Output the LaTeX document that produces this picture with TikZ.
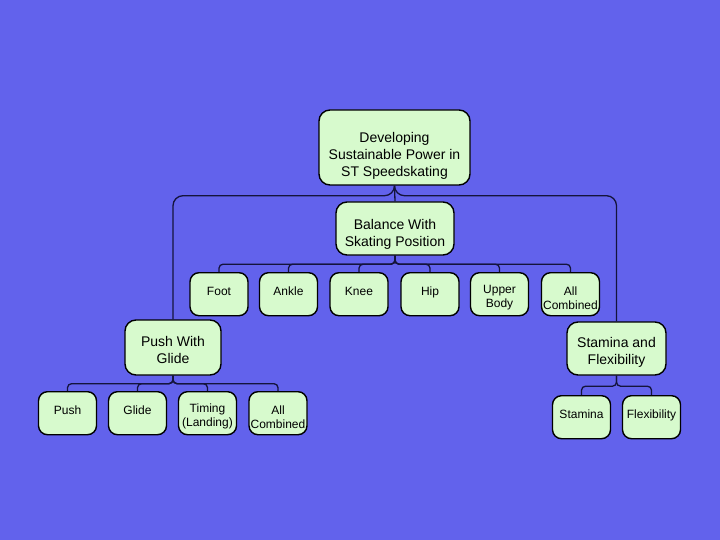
\documentclass[tikz,border=0pt]{standalone}
\usepackage{fontspec}
\setmainfont{Liberation Sans}
\usetikzlibrary{calc}
\definecolor{bgblue}{RGB}{98,98,236}
\definecolor{boxgreen}{RGB}{215,250,205}
\definecolor{linenavy}{RGB}{20,20,60}
\tikzset{
  box/.style={draw=black, line width=1.4pt, fill=boxgreen, rounded corners=11pt,
    align=center, inner sep=2pt, font=\fontsize{14}{17}\selectfont, text height=#1},
  box/.default=33pt,
  leaf/.style={draw=black, line width=1.4pt, fill=boxgreen, rounded corners=9pt,
    align=center, inner sep=1pt, anchor=north, minimum width=58pt, minimum height=43pt,
    font=\fontsize{12}{14}\selectfont, text height=30pt},
  conn/.style={draw=linenavy, line width=1.3pt},
}
\begin{document}
\begin{tikzpicture}[x=1pt, y=-1pt]
  \fill[bgblue] (0,0) rectangle (720,540);
  \useasboundingbox (0,0) rectangle (720,540);
  % main boxes
  \node[box=60pt, minimum width=151pt, minimum height=75pt] (goal) at (394.5,147.5)
    {Developing\\Sustainable Power in\\ST Speedskating};
  \node[box=38pt, minimum width=118pt, minimum height=53pt] (bal) at (395,228.5)
    {Balance With\\Skating Position};
  \node[box=33pt, minimum width=96pt, minimum height=55pt] (push) at (173,347.5)
    {Push With\\Glide};
  \node[box=35pt, minimum width=99pt, minimum height=53pt] (stam) at (616.5,348.5)
    {Stamina and\\Flexibility};
  % balance row
  \node[leaf] (foot) at (219,272) {Foot\\\mbox{}};
  \node[leaf] (ankle) at (288.5,272) {Ankle\\\mbox{}};
  \node[leaf] (knee) at (359,272) {Knee\\\mbox{}};
  \node[leaf] (hip) at (430,272) {Hip\\\mbox{}};
  \node[leaf] (upper) at (499.5,272) {Upper\\Body};
  \node[leaf] (allb) at (570.5,272) {All\\Combined};
  % push row
  \node[leaf] (pushl) at (67.5,391) {Push\\\mbox{}};
  \node[leaf] (glide) at (137.5,391) {Glide\\\mbox{}};
  \node[leaf] (timing) at (207.5,391) {Timing\\(Landing)};
  \node[leaf] (allp) at (278,391) {All\\Combined};
  % stamina row
  \node[leaf] (staml) at (581.5,395) {Stamina\\\mbox{}};
  \node[leaf] (flex) at (651.5,395) {Flexibility\\\mbox{}};
  % connectors
  \draw[conn] (goal.south) -- (bal.north);
  \draw[conn, rounded corners=10pt] (goal.south) -- ++(0,10) -| (push.north);
  \draw[conn, rounded corners=10pt] (goal.south) -- ++(0,10) -| (stam.north);
  \foreach \n in {foot,ankle,knee,hip,upper,allb}
    \draw[conn, rounded corners=4pt] (bal.south) -- ++(0,8.5) -| (\n.north);
  \foreach \n in {pushl,glide,timing,allp}
    \draw[conn, rounded corners=4pt] (push.south) -- ++(0,8) -| (\n.north);
  \foreach \n in {staml,flex}
    \draw[conn, rounded corners=4pt] (stam.south) -- ++(0,10.5) -| (\n.north);
\end{tikzpicture}
\end{document}
